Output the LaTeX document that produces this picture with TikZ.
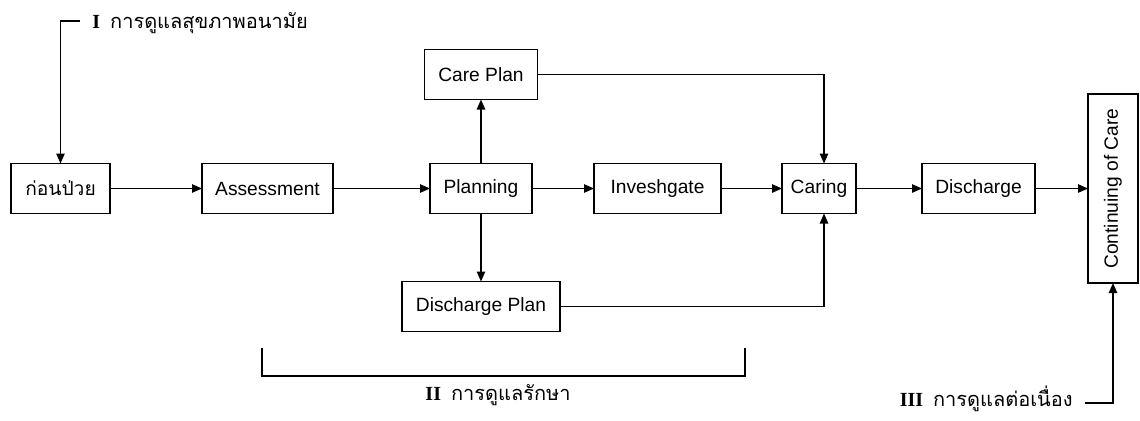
\documentclass[tikz,border=0pt]{standalone}
\usepackage{fontspec}
\setmainfont{Liberation Sans}
\newfontfamily\thaifont[Script=Thai]{Loma}
\newfontfamily\romfont{Liberation Serif}
\usetikzlibrary{arrows.meta,positioning}

\begin{document}
\begin{tikzpicture}[x=0.5pt,y=-0.5pt,
    box/.style={draw,line width=0.75pt,outer sep=0pt,minimum height=25pt,inner sep=0pt,align=center,font=\fontsize{9.6}{11}\selectfont},
    arr/.style={-{Triangle[length=5pt,width=4.2pt]},line width=0.7pt},
    lbl/.style={inner sep=0pt,font=\fontsize{10}{12}\selectfont}]
  \useasboundingbox (0,0) rectangle (1140,420);
  % main chain
  \node[box,minimum width=49.5pt] (before) at (60.5,188.5) {\thaifont ก่อนป่วย};
  \node[box,minimum width=65.5pt,right=46pt of before] (assess) {Assessment};
  \node[box,minimum width=51pt,right=48.5pt of assess] (planning) {Planning};
  \node[box,minimum width=63.5pt,right=31pt of planning] (invest) {Inveshgate};
  \node[box,minimum width=37pt,right=30.5pt of invest] (caring) {Caring};
  \node[box,minimum width=56.5pt,right=33pt of caring] (discharge) {Discharge};
  \node[box,minimum width=25pt,minimum height=94.5pt,right=26.5pt of discharge] (cont)
    {\rotatebox{90}{Continuing of Care}};
  % plans
  \node[box,minimum width=56.5pt,above=32pt of planning] (careplan) {Care Plan};
  \node[box,minimum width=79pt,below=34pt of planning] (dplan) {Discharge Plan};

  \draw[arr] (before) -- (assess);
  \draw[arr] (assess) -- (planning);
  \draw[arr] (planning) -- (invest);
  \draw[arr] (invest) -- (caring);
  \draw[arr] (caring) -- (discharge);
  \draw[arr] (discharge) -- (cont);
  \draw[arr] (planning) -- (planning |- careplan.south);
  \draw[arr] (planning) -- (planning |- dplan.north);
  \draw[arr] (careplan) -| ([xshift=2.5pt]caring.north);
  \draw[arr] (dplan) -| ([xshift=2.5pt]caring.south);

  % phase labels
  \node[lbl,anchor=base west] (labI) at (92,28)
    {{\romfont\bfseries I}\enspace{\thaifont การดูแลสุขภาพอนามัย}};
  \draw[arr] ([shift={(-6pt,3.5pt)}]labI.base west) -| (before.north);
  \coordinate (brL) at (262,348);
  \coordinate (brR) at (745,348);
  \draw[line width=0.6pt] (brL) -- ++(0,28) -| (brR);
  \node[lbl,anchor=base] (labII) at (498,400)
    {{\romfont\bfseries II}\enspace{\thaifont การดูแลรักษา}};
  \node[lbl,anchor=base east] (labIII) at (1073,406)
    {{\romfont\bfseries III}\enspace{\thaifont การดูแลต่อเนื่อง}};
  \draw[arr] ([shift={(6pt,1.5pt)}]labIII.base east) -| (cont.south);
\end{tikzpicture}
\end{document}
